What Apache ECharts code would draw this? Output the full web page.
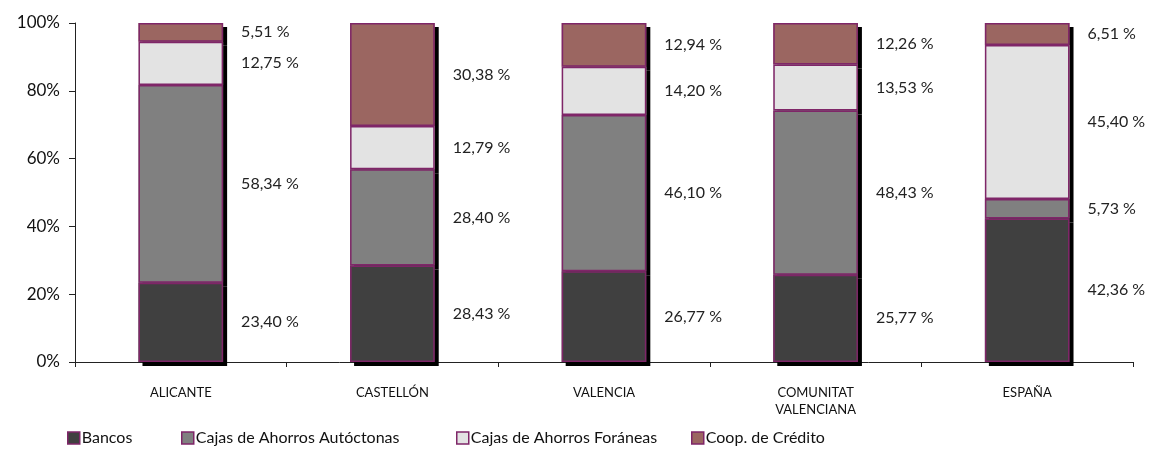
<!DOCTYPE html>
<html>
<head>
    <meta charset="utf-8">
    <title>cuota</title>
    <script src="https://cdn.jsdelivr.net/npm/echarts@6/dist/echarts.min.js"></script>
    <style>
        body { margin: 0; background: #fff; }
        #chart { width: 1151px; height: 462px; }
    </style>
</head>
<body>
<div id="chart"></div>
<script>
    // datos
    var categories = ['ALICANTE', 'CASTELLÓN', 'VALENCIA', 'COMUNITAT\nVALENCIANA', 'ESPAÑA'];
    var seriesNames = ['Bancos', 'Cajas de Ahorros Autóctonas', 'Cajas de Ahorros Foráneas', 'Coop. de Crédito'];
    var bancos = [23.40, 28.43, 26.77, 25.77, 42.36];
    var autoctonas = [58.34, 28.40, 46.10, 48.43, 5.73];
    var foraneas = [12.75, 12.79, 14.20, 13.53, 45.40];
    var coop = [5.51, 30.38, 12.94, 12.26, 6.51];
    var colors = ['#404040', '#808080', '#e3e3e3', '#9b6661'];
    var legendLeft = [62, 176, 451, 686];

    var fontFam = 'Lato, "DejaVu Sans", sans-serif';
    var borderCol = '#7f2668';
    var chart = echarts.init(document.getElementById('chart'));

    var allData = [bancos, autoctonas, foraneas, coop];
    var series = [];
    // relleno con sombra (el de abajo se dibuja encima)
    allData.forEach(function(vals, i) {
        series.push({
            name: seriesNames[i],
            type: 'bar',
            stack: 'fill',
            barWidth: '40%',
            barGap: '-100%',
            z: 10 - i,
            data: vals,
            itemStyle: {
                color: colors[i],
                shadowColor: '#000',
                shadowOffsetX: 4,
                shadowOffsetY: 4,
                shadowBlur: 0
            }
        });
    });
    // bordes y etiquetas
    allData.forEach(function(vals, i) {
        series.push({
            name: 'borde' + i,
            type: 'bar',
            stack: 'line',
            barWidth: '40%',
            barGap: '-100%',
            z: 20,
            data: vals,
            itemStyle: {
                color: 'rgba(0,0,0,0)',
                borderColor: borderCol,
                borderWidth: 1.5
            },
            label: {
                show: true,
                position: 'right',
                distance: 18,
                fontFamily: fontFam,
                fontSize: 16,
                color: '#222',
                formatter: function(p) {
                    return p.value.toFixed(2).replace('.', ',') + ' %';
                }
            }
        });
    });

    var legends = seriesNames.map(function(n, i) {
        return {
            left: legendLeft[i],
            top: 425,
            itemWidth: 12,
            itemHeight: 12,
            icon: 'rect',
            itemStyle: { borderColor: borderCol, borderWidth: 1.5 },
            textStyle: { fontFamily: fontFam, fontSize: 16, color: '#111', padding: [0, 0, 0, -3] },
            data: [n]
        };
    });

    var option = {
        animation: false,
        grid: { left: 75, right: 18, top: 23, bottom: 100 },
        legend: legends,
        xAxis: {
            type: 'category',
            data: categories,
            axisLine: { lineStyle: { color: '#222', width: 1 } },
            axisTick: { show: true, length: 5, lineStyle: { color: '#222' } },
            axisLabel: { fontFamily: fontFam, fontSize: 13, color: '#111', margin: 22, lineHeight: 17 }
        },
        yAxis: {
            type: 'value',
            min: 0,
            max: 100,
            interval: 20,
            splitLine: { show: false },
            axisLine: { show: true, lineStyle: { color: '#222', width: 1 } },
            axisTick: { show: true, length: 6, lineStyle: { color: '#222' } },
            axisLabel: { fontFamily: fontFam, fontSize: 17, color: '#111', margin: 15, formatter: '{value}%' }
        },
        series: series
    };

    chart.setOption(option);
</script>
</body>
</html>
